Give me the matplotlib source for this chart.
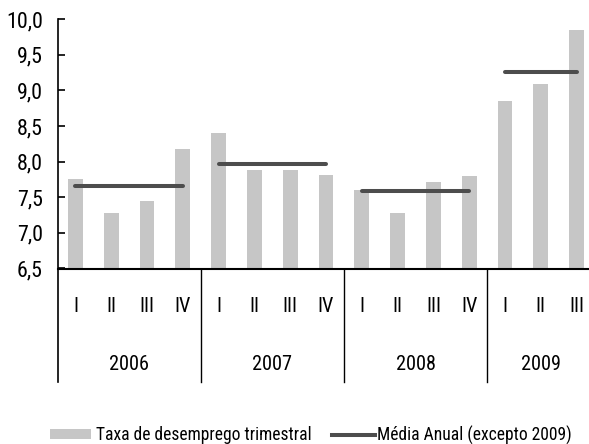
import matplotlib
matplotlib.use("Agg")
import matplotlib.pyplot as plt
from matplotlib import font_manager
from matplotlib.font_manager import FontProperties
from matplotlib.transforms import blended_transform_factory
from matplotlib.patches import Patch
from matplotlib.lines import Line2D

# ---- data ----
years = ["2006", "2007", "2008", "2009"]
quarter_labels = ["I", "II", "III", "IV", "I", "II", "III", "IV",
                  "I", "II", "III", "IV", "I", "II", "III"]
taxa_trimestral = [7.75, 7.28, 7.45, 8.18,
                   8.40, 7.88, 7.88, 7.82,
                   7.60, 7.28, 7.71, 7.80,
                   8.85, 9.09, 9.85]
media_anual = [7.66, 7.97, 7.59, 9.26]
year_n_quarters = [4, 4, 4, 3]
y_ticks = [6.5, 7.0, 7.5, 8.0, 8.5, 9.0, 9.5, 10.0]
y_tick_labels = ["6,5", "7,0", "7,5", "8,0", "8,5", "9,0", "9,5", "10,0"]
legend_labels = ["Taxa de desemprego trimestral", "Média Anual (excepto 2009)"]

# ---- fonts: prefer a narrow sans (Arial Narrow look) ----
def pick_font():
    cands = []
    for f in font_manager.fontManager.ttflist:
        fn = f.fname.lower()
        if ("narrow" in fn or "condensed" in fn) and f.style == "normal" \
                and f.weight in (400, "normal", "regular") \
                and "bold" not in fn and "italic" not in fn and "oblique" not in fn \
                and "light" not in fn and "mono" not in fn and "serif" not in fn.replace("sans", ""):
            cands.append(f)
    order = ["liberation", "arimo", "roboto", "open", "noto", "dejavu"]
    for key in order:
        for f in cands:
            if key in f.fname.lower():
                return FontProperties(fname=f.fname)
    if cands:
        return FontProperties(fname=cands[0].fname)
    return FontProperties(family="Liberation Sans")

fp = pick_font()

bar_color = "#C6C6C6"
line_color = "#4D4D4D"

W, H = 589, 444
fig = plt.figure(figsize=(W / 100, H / 100), dpi=100)
renderer = fig.canvas.get_renderer()

def size_for_width(s, target_px):
    f = fp.copy()
    f.set_size(10)
    t = fig.text(0, 0, s, fontproperties=f)
    w = t.get_window_extent(renderer).width
    t.remove()
    return 10 * target_px / w

boost = 1.07
fs_ytick = size_for_width("10,0", 34) * boost
fs_year = size_for_width("2009", 37) * boost
fs_leg = size_for_width(legend_labels[0], 214)

ax = fig.add_axes([57.5 / W, 1 - 268.5 / H, (594.5 - 57.5) / W, (268.5 - 19.3) / H])

x = list(range(len(taxa_trimestral)))
ax.bar(x, taxa_trimestral, width=0.41, color=bar_color, zorder=1)

# annual average lines
start = 0
for n, m in zip(year_n_quarters, media_anual):
    ax.plot([start, start + n - 1], [m, m], color=line_color, lw=2.9,
            solid_capstyle="round", zorder=3)
    start += n

ax.set_xlim(-0.5, 14.5)
ax.set_ylim(6.5, 10.0)
ax.set_yticks(y_ticks)
ytf = fp.copy()
ytf.set_size(fs_ytick)
ax.set_yticklabels(y_tick_labels, fontproperties=ytf)
ax.tick_params(axis="y", direction="in", length=5, width=1.2, pad=10.5)
ax.set_xticks([])
for s in ["top", "right", "left"]:
    ax.spines[s].set_visible(False)
ax.spines["bottom"].set_linewidth(1.5)

trans = blended_transform_factory(ax.transData, ax.transAxes)
axh = 268.5 - 19.3
y_sep_bottom = -(382 - 268.5) / axh
y_quarter = -(306 - 268.5) / axh
y_year = -(364 - 268.5) / axh

yf = fp.copy()
yf.set_size(fs_year)

# left axis (extends down as first separator)
ax.plot([-0.5, -0.5], [y_sep_bottom, 1.0], transform=trans, color="black",
        lw=1.2, clip_on=False, zorder=4)
start = 0
for i, (yr, n) in enumerate(zip(years, year_n_quarters)):
    if i > 0:
        ax.plot([start - 0.5, start - 0.5], [y_sep_bottom, 0], transform=trans,
                color="black", lw=1.0, clip_on=False)
    ax.text(start + (n - 1) / 2, y_year, yr, transform=trans, ha="center",
            va="center", fontproperties=yf)
    start += n

for xi, q in zip(x, quarter_labels):
    ax.text(xi, y_quarter, q, transform=trans, ha="center", va="center",
            fontproperties=yf)

handles = [Patch(facecolor=bar_color, edgecolor="none"),
           Line2D([0], [0], color=line_color, lw=2.9)]

lf = fp.copy()
lf.set_size(fs_leg)
em = fs_leg * 100 / 72  # px per em
common = dict(loc="center left", frameon=False, prop=lf,
              handleheight=9 / em, borderpad=0, borderaxespad=0)
leg1 = fig.legend([handles[0]], [legend_labels[0]],
                  bbox_to_anchor=(50 / W, 1 - 435 / H),
                  handlelength=41 / em, handletextpad=5 / em, **common)
leg2 = fig.legend([handles[1]], [legend_labels[1]],
                  bbox_to_anchor=(332 / W, 1 - 435 / H),
                  handlelength=43 / em, handletextpad=2 / em, **common)

fig.savefig("out.png", dpi=100)
